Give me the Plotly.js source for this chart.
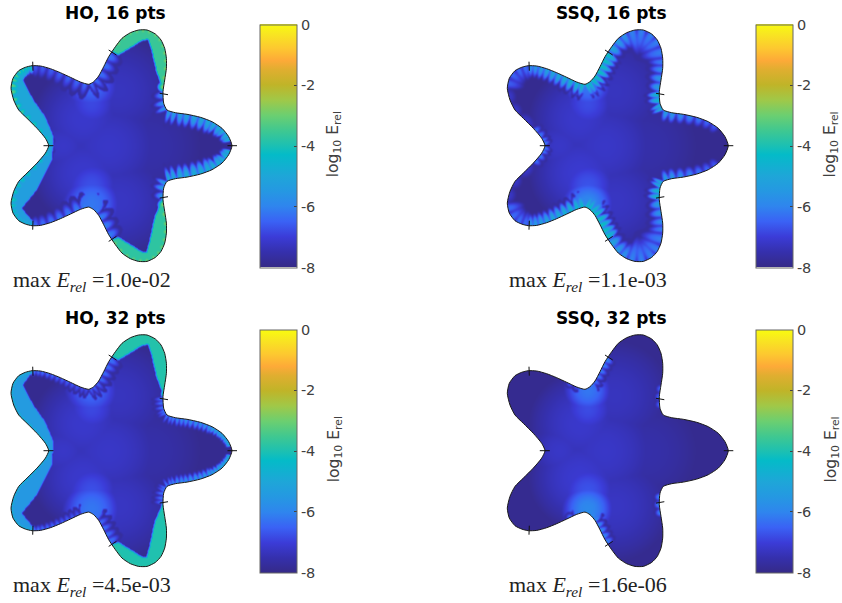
<!DOCTYPE html>
<html><head><meta charset="utf-8">
<script src="https://cdn.plot.ly/plotly-3.0.1.min.js"></script>
<style>html,body{margin:0;padding:0;background:#fff}#c{width:842px;height:603px}</style></head>
<body><div id="c"></div>
<script>
// Domain boundary (counter-clockwise from the right tip)
const boundaryX=[1.135,1.102,1.035,.935,.819,.685,.569,.485,.452,.445,.462,.479,.479,.462,.425,.369,.285,.202,.119,.035,-.031,-.098,-.148,-.198,-.248,-.298,-.381,-.481,-.581,-.681,-.781,-.865,-.931,-.998,-1.055,-1.075,-1.048,-.998,-.915,-.815,-.731,-.698,
-.731,-.815,-.915,-.998,-1.048,-1.075,-1.055,-.998,-.931,-.865,-.781,-.681,-.581,-.481,-.381,-.298,-.248,-.198,-.148,-.098,-.031,.035,.119,.202,.285,.369,.425,.462,.479,.479,.462,.445,.452,.485,.569,.685,.819,.935,1.035,1.102];
const boundaryY=[0,.09,.174,.24,.284,.314,.33,.357,.424,.54,.657,.774,.874,.974,1.057,1.117,1.157,1.157,1.13,1.074,.99,.89,.79,.697,.64,.614,.637,.684,.73,.77,.797,.8,.784,.75,.674,.574,.457,.357,.274,.174,.074,0,
-.074,-.174,-.274,-.357,-.457,-.574,-.674,-.75,-.784,-.8,-.797,-.77,-.73,-.684,-.637,-.614,-.64,-.697,-.79,-.89,-.99,-1.074,-1.13,-1.157,-1.157,-1.117,-1.057,-.974,-.874,-.774,-.657,-.54,-.424,-.357,-.33,-.314,-.284,-.24,-.174,-.09];
// Panel-edge tick segments
const tickX0=[1.09,.412,-.098,-.858,-.75,-.858,-.098,.412];
const tickY0=[0,.524,.957,.84,0,-.84,-.957,-.524];
const tickX1=[1.185,.495,-.021,-.855,-.65,-.855,-.021,.495];
const tickY1=[0,.51,.907,.75,0,-.75,-.907,-.51];
// Colorbar ticks and colormap as seen in the reference
const cbarTicks=[-8,-6,-4,-2,0];
const cbarLabels=['-8','-6','-4','-2','0'];
const cmapValues=[-8,-7.5,-7,-6.5,-6,-5.5,-5,-4.3,-4,-3.5,-3,-2.5,-2,-1.5,-1.2,-.8,-.3,0];
const cmapColors=['#352a87','#3530ad','#3b3cd8','#3a62f5','#2f85ee','#2598e2','#1ea6d8','#04bbc8','#1cc0b2','#40c890','#6ccf70','#a0c848','#c0b428','#e0ae30','#fdaa38','#fdc830','#f8e820','#f9fb0e'];
// Flat error bands of the HO panels: vertex lists
const topBandX=[.465,.382,.332,.298,.232,-.002,-.068,-.1,.8,.8],topBandY=[.517,.74,.957,1.064,1.05,.907,.94,1.4,1.4,.517];
const upBandX=[-.856,-.958,-.852,-.735,-.652,-.658,-1.4,-1.4,-.856],upBandY=[.797,.657,.457,.29,.09,0,0,.85,.85];
const lowBandX=[-.658,-.668,-.818,-.968,-.856,-.856,-1.4,-1.4],lowBandY=[0,-.143,-.443,-.626,-.76,-.85,-.85,0];
const botBandX=[.448,.365,.315,.282,.232,-.002,-.068,-.1,.8,.8],botBandY=[-.52,-.71,-.943,-1.066,-1.06,-.916,-.936,-1.4,-1.4,-.52];
const ho16BandValues=[-3.6,-5,-5.3,-3.75];
const ho32BandValues=[-3.9,-5.4,-5.5,-3.95];
// Interior glow: x, y, radius, log10 E
const hoGlow=[[-.27,.6,.32,-6.4],[-.27,.42,.3,-6.85],[-.27,-.58,.34,-6.2],[-.27,-.4,.32,-6.75],[-.55,0,.36,-7.2],[-.1,0,.62,-7.2],[-.35,.27,.55,-7.15],[-.35,-.27,.55,-7.15],[.3,0,.6,-7.55],[0,.55,.6,-7.3],[0,-.55,.6,-7.25]];
const ssqGlow=[[-.27,.6,.28,-6.2],[-.27,.42,.3,-6.8],[-.27,-.58,.3,-5.9],[-.27,-.4,.32,-6.7],[-.55,0,.36,-7.2],[-.1,0,.62,-7.2],[-.35,.27,.55,-7.15],[-.35,-.27,.55,-7.1],[.3,0,.6,-7.55],[0,.55,.6,-7.3],[0,-.55,.6,-7.25]];
// Edge scallop runs: from vertex, to vertex, count, value start/end, reach start/end
const ho16Runs=[[.5,3,5,-4.4,-4.8,.09,.14],[3,7,7,-4.8,-5.4,.15,.15],[7,9,3,-5.4,-6,.14,.1],[9,20,14,-2.5,-2.9,.07,.07],[20.5,25,5,-6.2,-6.4,.13,.15],[25,31,7,-6.4,-6.6,.15,.12],[31,35,7,-3.6,-2.8,.09,.11],[35,41,9,-2.9,-4.2,.1,.07],[41,47,9,-4.2,-3.7,.07,.1],[47,51,7,-3.7,-4.4,.1,.07],[51,57,7,-6.4,-6,.1,.15],[57,61.5,5,-6,-6.1,.15,.13],[61.5,73,14,-2.9,-2.6,.07,.07],[73,75,3,-5.7,-5.2,.1,.14],[75,79,7,-4.9,-4.6,.16,.15],[79,81.5,5,-4.6,-4.3,.14,.09]];
const ssq16Runs=[[2,7,7,-6.7,-5.2,.08,.13],[7,9,4,-4.5,-4.1,.13,.14],[9,12,4,-5.2,-6.2,.12,.17],[12,18,5,-6.1,-6,.24,.28],[18,20.5,3,-5.8,-4.9,.18,.14],[20.5,25,8,-4,-3.6,.15,.15],[25,31,10,-4,-5.6,.15,.13],[31,35,4,-6.2,-6.6,.15,.18],[35,39,3,-7.2,-7.2,.08,.08],[39,41,4,-6.3,-5.8,.08,.08],[41,43,4,-5.8,-6.3,.08,.08],[43,47,3,-7.2,-7.2,.08,.08],[47,51,4,-6.4,-6.2,.18,.15],[51,57,10,-5.5,-3.9,.13,.15],[57,61.5,8,-3.6,-3.9,.15,.15],[61.5,64,3,-4.9,-5.8,.14,.18],[64,70,5,-6,-6.1,.28,.24],[70,73,4,-6.2,-5.2,.17,.12],[73,75,4,-4.1,-4.5,.14,.13],[75,80,7,-5.2,-6.7,.13,.08]];
const ho32Runs=[[.5,3,8,-4.2,-5,.05,.08],[3,9,16,-5.4,-6.2,.09,.11],[9,20,24,-3.2,-3.2,.03,.03],[20.5,25,7,-6.2,-6.5,.13,.11],[25,31,12,-6.7,-6.1,.09,.06],[31,41,24,-4.2,-4.2,.05,.05],[41,51,24,-4.2,-4.2,.05,.05],[51,57,12,-6.1,-6.7,.06,.09],[57,61.5,7,-6.5,-6.2,.11,.13],[61.5,73,24,-3.2,-3.2,.03,.03],[73,79,16,-6.2,-5.2,.11,.09],[79,81.5,8,-5,-4,.08,.05]];
const ssq32Runs=[[20.5,25,8,-5.9,-6.4,.09,.08],[25,27,3,-6.8,-6.6,.05,.04],[8,10,3,-6.4,-6.4,.05,.05],[55,57,3,-6.2,-6.2,.05,.05],[57,61.5,8,-5.4,-6,.1,.09],[72,74,3,-6,-6,.06,.06]];
const panelTitles=['HO, 16 pts','SSQ, 16 pts','HO, 32 pts','SSQ, 32 pts'];
const maxErrors=['1.0e-02','1.1e-03','4.5e-03','1.6e-06'];
const panelRuns=[ho16Runs,ssq16Runs,ho32Runs,ssq32Runs];
const panelGlow=[hoGlow,ssqGlow,hoGlow,ssqGlow];
const panelBands=[ho16BandValues,null,ho32BandValues,null];

const W=842,H=603;
const allBands=[[topBandX,topBandY],[upBandX,upBandY],[lowBandX,lowBandY],[botBandX,botBandY]];
function inPoly(px,py,X,Y){let c=false;for(let i=0,j=X.length-1;i<X.length;j=i++){if((Y[i]>py)!==(Y[j]>py)&&px<(X[j]-X[i])*(py-Y[i])/(Y[j]-Y[i])+X[i])c=!c;}return c;}
function at(A,f){const n=A.length,i=Math.floor(f)%n,t=f-Math.floor(f);return A[i]*(1-t)+A[(i+1)%n]*t;}
function soften(z){return z.map((row,r)=>row.map((v,c)=>{let s=0,n=0;for(let a=-1;a<=1;a++)for(let b=-1;b<=1;b++){const q=z[r+a]&&z[r+a][c+b];if(q!==undefined){const w=(a?1:2)*(b?1:2);s+=q*w;n+=w;}}return s/n;}));}
function petals(runs){const out=[];runs.forEach(R=>{for(let k=0;k<R[2];k++){const t=(k+.5)/R[2],st=(R[1]-R[0])/R[2],f=R[0]+(R[1]-R[0])*t,
  bx=at(boundaryX,f),by=at(boundaryY,f),ax=at(boundaryX,f-st/2+82),ay=at(boundaryY,f-st/2+82),cx=at(boundaryX,f+st/2),cy=at(boundaryY,f+st/2),
  len=Math.hypot(cx-ax,cy-ay)||.01;out.push({bx,by,ux:(cx-ax)/len,uy:(cy-ay)/len,a:len*.62,b:R[5]+(R[6]-R[5])*t,v:R[3]+(R[4]-R[3])*t});}});return out;}
function field(runs,glow,bandVals,xs,ys){
  const z=ys.map(()=>xs.map(()=>-7.88));
  glow.forEach(g=>{ys.forEach((y,r)=>xs.forEach((x,c)=>{const d=Math.hypot(x-g[0],y-g[1])/g[2];if(d<1){const v=-8+(g[3]+8)*(1-d*d);if(v>z[r][c])z[r][c]=v;}}));});
  if(bandVals)allBands.forEach((b,k)=>{ys.forEach((y,r)=>xs.forEach((x,c)=>{if(bandVals[k]>z[r][c]&&inPoly(x,y,b[0],b[1]))z[r][c]=bandVals[k];}));});
  const P=petals(runs),reach=s=>Math.max(s.a,s.b)*1.2;
  const q=(s,x,y)=>{const dx=x-s.bx,dy=y-s.by,t=dx*s.ux+dy*s.uy,n=-dx*s.uy+dy*s.ux;return Math.hypot(t/s.a,n/s.b);};
  P.forEach(s=>{const R=reach(s);ys.forEach((y,r)=>{if(Math.abs(y-s.by)>R)return;xs.forEach((x,c)=>{if(Math.abs(x-s.bx)<=R&&z[r][c]<-6.4&&q(s,x,y)<1.14)z[r][c]=Math.min(z[r][c],-7.7);});});});
  P.forEach(s=>{const R=reach(s);ys.forEach((y,r)=>{if(Math.abs(y-s.by)>R)return;xs.forEach((x,c)=>{if(Math.abs(x-s.bx)>R)return;const d=q(s,x,y);if(d<1){const w=s.v-(s.v+8)*d*d;if(w>z[r][c])z[r][c]=w;}});});});
  return soften(z);
}
const cmin=-8,cspan=8;
const colorscale=cmapValues.map((v,i)=>[(v-cmin)/cspan,cmapColors[i]]);
const xs=[],ys=[];
for(let i=-117;i<=120;i++)xs.push(i/100);
for(let i=-123;i<=124;i++)ys.push(i/100);
const rectX=[-3,-3,3,3,-3],rectY=[-3,3,3,-3,-3];
const colLeft=[0,496.3],rowTop=[20,325],colTitle=[115.5,611],rowTitleY=[13,318];
const traces=[],layout={width:W,height:H,margin:{l:0,r:0,t:0,b:0},paper_bgcolor:'#fff',plot_bgcolor:'#fff',showlegend:false,annotations:[]};
panelTitles.forEach((t,p)=>{
  const col=p%2,row=p>>1,xa='x'+(p+1),ya='y'+(p+1),L=colLeft[col],T=rowTop[row];
  const axk=(p?String(p+1):'');
  layout['xaxis'+axk]={domain:[L/W,(L+240)/W],range:[-1.185,1.215],visible:false,fixedrange:true};
  layout['yaxis'+axk]={domain:[1-(T+250)/H,1-T/H],range:[-1.243,1.257],visible:false,fixedrange:true};
  const cbTop=rowTop[row]+4.5, cbL=col?756:259.7;
  traces.push({type:'heatmap',x:xs,y:ys,z:field(panelRuns[p],panelGlow[p],panelBands[p],xs,ys),xaxis:xa,yaxis:ya,zmin:-8,zmax:0,zsmooth:'fast',colorscale,hoverinfo:'skip',
    colorbar:{x:cbL/W,xanchor:'left',xpad:0,ypad:0,thickness:36.6,thicknessmode:'pixels',len:243,lenmode:'pixels',y:1-(cbTop+121.5)/H,yanchor:'middle',tickmode:'array',tickvals:cbarTicks,ticktext:cbarLabels,ticks:'inside',ticklen:3,tickwidth:1,tickcolor:'#404040',outlinecolor:'#666',outlinewidth:1,tickfont:{family:'DejaVu Sans',size:14.5,color:'#404040'}}});
  traces.push({type:'scatter',mode:'lines',x:rectX.concat([null],boundaryX,[boundaryX[0]]),y:rectY.concat([null],boundaryY,[boundaryY[0]]),xaxis:xa,yaxis:ya,fill:'toself',fillcolor:'#fff',line:{width:0,shape:'spline',smoothing:.6},hoverinfo:'skip'});
  traces.push({type:'scatter',mode:'lines',x:boundaryX.concat([boundaryX[0]]),y:boundaryY.concat([boundaryY[0]]),xaxis:xa,yaxis:ya,line:{color:'#1a1a1a',width:1,shape:'spline',smoothing:.6},hoverinfo:'skip'});
  const tx=[],ty=[];tickX0.forEach((v,i)=>{tx.push(v,tickX1[i],null);ty.push(tickY0[i],tickY1[i],null);});
  traces.push({type:'scatter',mode:'lines',x:tx,y:ty,xaxis:xa,yaxis:ya,line:{color:'#111',width:1},hoverinfo:'skip'});
  layout.annotations.push({xref:'paper',yref:'paper',x:colTitle[col]/W,y:1-rowTitleY[row]/H,text:'<b>'+t+'</b>',showarrow:false,xanchor:'center',yanchor:'middle',font:{family:'DejaVu Sans',size:17,color:'#000'}});
  layout.annotations.push({xref:'paper',yref:'paper',x:(11+col*496.3)/W,y:1-(rowTop[row]+260.5)/H,text:'max <i>E</i><sub><i>rel</i></sub> ='+maxErrors[p],showarrow:false,xanchor:'left',yanchor:'middle',font:{family:'Liberation Serif',size:22,color:'#222'}});
  layout.annotations.push({xref:'paper',yref:'paper',x:(cbL+75)/W,y:1-(cbTop+120)/H,text:'log<sub>10</sub> E<sub>rel</sub>',textangle:-90,showarrow:false,xanchor:'center',yanchor:'middle',font:{family:'DejaVu Sans',size:15.5,color:'#404040'}});
});
Plotly.newPlot('c',traces,layout,{staticPlot:true,displayModeBar:false});
</script></body></html>
